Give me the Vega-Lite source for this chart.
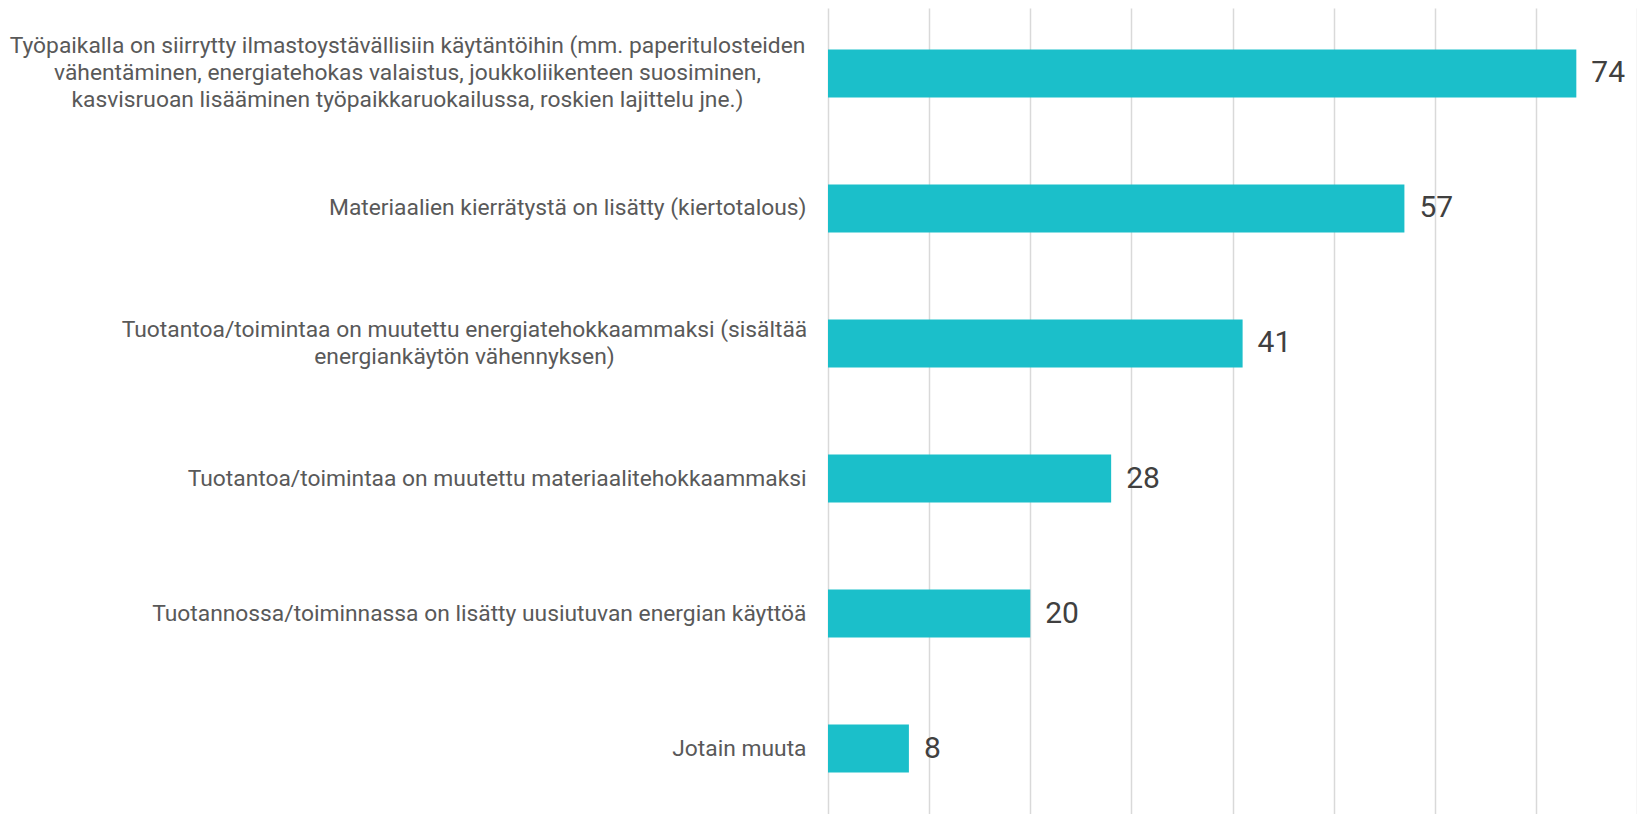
{
  "$schema": "https://vega.github.io/schema/vega-lite/v6.json",
  "width": 809,
  "height": 806,
  "autosize": {"type": "none"},
  "padding": {"left": 828, "top": 8, "right": 0, "bottom": 0},
  "background": "white",
  "config": {"view": {"stroke": null}, "font": "Roboto"},
  "data": {
    "values": [
      {"cat": "Työpaikalla on siirrytty ilmastoystävällisiin käytäntöihin (mm. paperitulosteiden|vähentäminen, energiatehokas valaistus, joukkoliikenteen suosiminen,|kasvisruoan lisääminen työpaikkaruokailussa, roskien lajittelu jne.)", "val": 74},
      {"cat": "Materiaalien kierrätystä on lisätty (kiertotalous)", "val": 57},
      {"cat": "Tuotantoa/toimintaa on muutettu energiatehokkaammaksi (sisältää|energiankäytön vähennyksen)", "val": 41},
      {"cat": "Tuotantoa/toimintaa on muutettu materiaalitehokkaammaksi", "val": 28},
      {"cat": "Tuotannossa/toiminnassa on lisätty uusiutuvan energian käyttöä", "val": 20},
      {"cat": "Jotain muuta", "val": 8}
    ]
  },
  "encoding": {
    "y": {
      "field": "cat",
      "type": "nominal",
      "sort": null,
      "scale": {"paddingInner": 0.644, "paddingOuter": 0.307},
      "axis": {
        "title": null,
        "domain": false,
        "ticks": false,
        "labelExpr": "split(datum.label, '|')",
        "labelFont": "Roboto",
        "labelFontSize": 22.8,
        "labelColor": "#595959",
        "labelLineHeight": 27,
        "labelLimit": 1000,
        "labelAlign": {"condition": {"test": "indexof(datum.value, '|') >= 0", "value": "center"}, "value": "right"},
        "labelOffset": {"condition": [{"test": "indexof(datum.value, 'ilmasto') >= 0", "value": -27}, {"test": "indexof(datum.value, '|') >= 0", "value": -13}], "value": 0},
        "labelPadding": {"condition": [{"test": "indexof(datum.value, 'ilmasto') >= 0", "value": 421}, {"test": "indexof(datum.value, '|') >= 0", "value": 364}], "value": 22}
      }
    },
    "x": {
      "field": "val",
      "type": "quantitative",
      "scale": {"domain": [0, 80], "nice": false},
      "axis": {
        "title": null,
        "labels": false,
        "ticks": false,
        "domain": false,
        "grid": true,
        "values": [0, 10, 20, 30, 40, 50, 60, 70, 80],
        "gridColor": "#d9d9d9",
        "gridWidth": 1.5
      }
    }
  },
  "layer": [
    {"mark": {"type": "bar", "color": "#1bbfca"}},
    {
      "mark": {"type": "text", "align": "left", "baseline": "middle", "dx": 15, "font": "Roboto", "fontSize": 30, "color": "#404040"},
      "encoding": {"text": {"field": "val", "type": "quantitative"}}
    }
  ]
}
